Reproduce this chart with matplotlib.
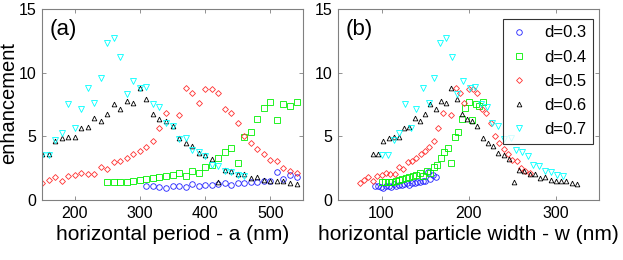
import matplotlib
matplotlib.use("Agg")
import matplotlib.pyplot as plt

plt.rcParams['font.family'] = ['Liberation Sans', 'DejaVu Sans']

# ---- data ----
labels = ["d=0.3", "d=0.4", "d=0.5", "d=0.6", "d=0.7"]

# d=0.3
a_03 = [310, 320, 330, 340, 350, 360, 370, 380, 390, 400, 410, 420, 430, 440, 450, 460, 470, 480, 490, 500,
        510, 520, 530, 540]
w_03 = [93, 96, 99, 102, 105, 108, 111, 114, 117, 120, 123, 126, 129, 132, 135, 138, 141, 144, 147, 150,
        153, 156, 159, 162]
e_03 = [1.07, 1.1, 1.04, 0.93, 1.1, 1.1, 1.05, 1.27, 1.13, 1.15, 1.15, 1.28, 1.35, 1.2, 1.33, 1.35, 1.42, 1.39,
        1.47, 1.48, 2.17, 1.62, 1.95, 1.79]

# d=0.4
a_04 = [250, 260, 270, 280, 290, 300, 310, 320, 330, 340, 350, 360, 370, 380, 390, 400, 410, 420, 430, 440,
        450, 460, 470, 480, 490, 500, 510, 520, 530, 540]
w_04 = [100, 104, 108, 112, 116, 120, 124, 128, 132, 136, 140, 144, 148, 152, 156, 160, 164, 168, 172, 176,
        180, 184, 188, 192, 196, 200, 204, 208, 212, 216]
e_04 = [1.44, 1.44, 1.44, 1.4, 1.49, 1.54, 1.65, 1.7, 1.83, 1.91, 1.97, 2.09, 1.88, 2.3, 2.09, 2.58, 2.75, 3.3,
        3.78, 4.05, 2.89, 4.97, 5.33, 6.34, 7.2, 7.73, 6.32, 7.5, 7.4, 7.67]

# d=0.5
a_05 = [150, 160, 170, 180, 190, 200, 210, 220, 230, 240, 250, 260, 270, 280, 290, 300, 310, 320, 330, 340,
        360, 370, 380, 390, 400, 410, 420, 430, 440, 450, 460, 470, 480, 490, 500, 510, 520, 530, 540]
w_05 = [75, 80, 85, 90, 95, 100, 105, 110, 115, 120, 125, 130, 135, 140, 145, 150, 155, 160, 165, 170,
        180, 185, 190, 195, 200, 205, 210, 215, 220, 225, 230, 235, 240, 245, 250, 255, 260, 265, 270]
e_05 = [1.3, 1.55, 1.82, 1.48, 1.9, 1.93, 2.13, 2.06, 2.08, 2.57, 2.46, 3.0, 3.1, 3.27, 3.59, 3.87, 4.19, 4.6,
        5.66, 6.86, 6.7, 8.82, 8.43, 7.6, 8.74, 8.7, 8.38, 7.17, 6.86, 6.05, 5.03, 4.45, 4.03, 3.59, 3.14, 3.06,
        2.49, 2.3, 2.15]

# d=0.6
a_06 = [150, 160, 170, 180, 190, 200, 210, 220, 230, 240, 250, 260, 270, 280, 290, 300, 310, 320, 330, 340,
        350, 360, 370, 380, 390, 400, 410, 420, 430, 440, 450, 460, 470, 480, 490, 500, 510, 520, 530, 540]
w_06 = [90, 96, 102, 108, 114, 120, 126, 132, 138, 144, 150, 156, 162, 168, 174, 180, 186, 192, 198, 204,
        210, 216, 222, 228, 234, 240, 246, 252, 258, 264, 270, 276, 282, 288, 294, 300, 306, 312, 318, 324]
e_06 = [3.65, 3.65, 4.63, 4.87, 4.92, 4.97, 5.63, 5.7, 6.41, 6.23, 6.75, 7.5, 7.15, 7.75, 7.6, 8.77, 7.96, 6.78,
        6.39, 6.23, 5.81, 4.9, 4.45, 4.27, 3.69, 3.5, 3.22, 1.4, 2.33, 2.25, 2.02, 2.08, 1.76, 1.83, 1.57, 1.53,
        1.51, 1.5, 1.36, 1.27]

# d=0.7
a_07 = [150, 160, 170, 180, 190, 200, 210, 220, 230, 240, 250, 260, 270, 280, 290, 300, 310, 320, 330, 340,
        350, 360, 370, 380, 390, 400, 410, 420, 430, 440, 450, 460]
w_07 = [100, 107, 114, 120, 127, 134, 140, 147, 154, 160, 167, 174, 181, 187, 194, 201, 207, 214, 221, 227,
        234, 241, 248, 254, 261, 268, 274, 281, 288, 294, 301, 308]
e_07 = [3.57, 3.57, 4.72, 5.23, 7.54, 5.68, 7.12, 8.8, 7.64, 9.58, 12.36, 12.75, 11.26, 8.35, 9.37, 8.77, 8.9,
        7.57, 7.28, 6.02, 5.8, 4.76, 4.86, 3.9, 3.75, 3.43, 2.72, 2.65, 2.3, 2.21, 1.95, 1.86]

a_list = [a_03, a_04, a_05, a_06, a_07]
w_list = [w_03, w_04, w_05, w_06, w_07]
e_list = [e_03, e_04, e_05, e_06, e_07]
markers = ["o", "s", "D", "^", "v"]
msizes = [4.0, 4.4, 3.0, 3.4, 3.8]
colors = ["#2020ff", "#00f000", "#ff3030", "#000000", "#00ffff"]

fig = plt.figure(figsize=(6.23, 2.6), dpi=100)
ax1 = fig.add_axes([0.0674, 0.2308, 0.419, 0.7346])
ax2 = fig.add_axes([0.5425, 0.2308, 0.4197, 0.7346])


def style_axes(ax):
    for s in ax.spines.values():
        s.set_color("#808080")
        s.set_linewidth(0.8)
    ax.tick_params(direction="in", top=True, right=True, length=3, width=0.6, color="#808080",
                   labelsize=11.5, pad=4)
    ax.set_ylim(0, 15)
    ax.set_yticks([0, 5, 10, 15])


for x, y, m, ms, c, lab in zip(a_list, e_list, markers, msizes, colors, labels):
    ax1.plot(x, y, linestyle="none", marker=m, markersize=ms, markerfacecolor="none",
             markeredgecolor=c, markeredgewidth=0.6, label=lab)
for x, y, m, ms, c, lab in zip(w_list, e_list, markers, msizes, colors, labels):
    ax2.plot(x, y, linestyle="none", marker=m, markersize=ms, markerfacecolor="none",
             markeredgecolor=c, markeredgewidth=0.6, label=lab)

style_axes(ax1)
style_axes(ax2)
ax1.set_xlim(150, 550)
ax1.set_xticks([200, 300, 400, 500])
ax2.set_xlim(50, 350)
ax2.set_xticks([100, 200, 300])

ax1.set_xlabel("horizontal period - a (nm)", fontsize=15, labelpad=3)
ax2.set_xlabel("horizontal particle width - w (nm)", fontsize=15, labelpad=3)
ax1.set_ylabel("enhancement", fontsize=14.5)
ax1.yaxis.set_label_coords(-0.093, 0.51)

ax1.text(0.03, 0.95, "(a)", transform=ax1.transAxes, fontsize=16, va="top", ha="left")
ax2.text(0.03, 0.95, "(b)", transform=ax2.transAxes, fontsize=16, va="top", ha="left")

leg = ax2.legend(loc="upper right", fontsize=12, frameon=True, fancybox=False, borderpad=0.4,
                 labelspacing=0.55, handlelength=1.2, handletextpad=0.9, borderaxespad=0.3,
                 bbox_to_anchor=(0.995, 0.975))
leg.get_frame().set_edgecolor("black")
leg.get_frame().set_linewidth(0.8)

fig.savefig("out.png", dpi=100)
